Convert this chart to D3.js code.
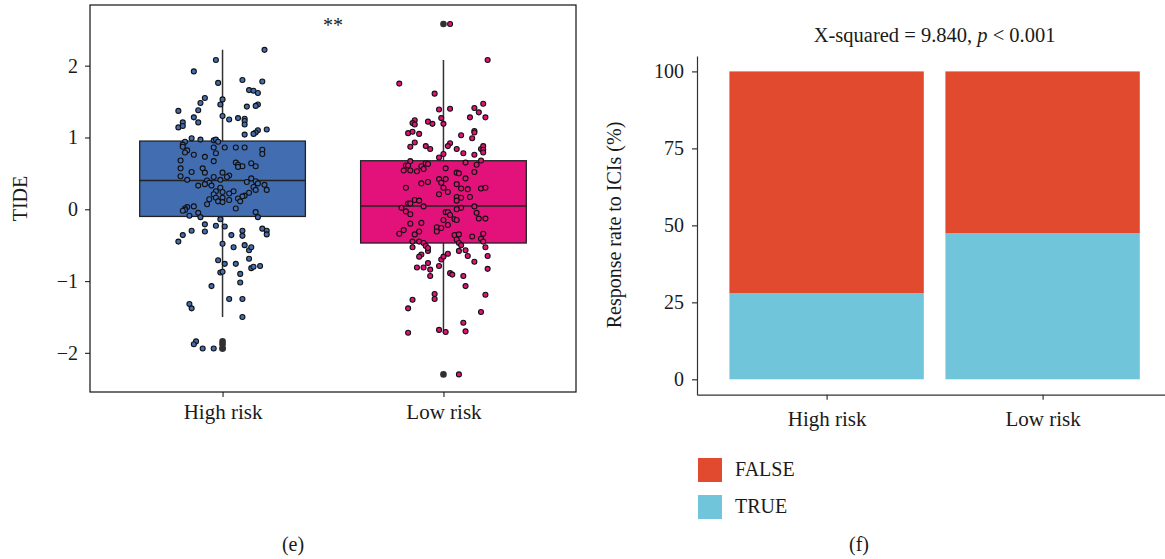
<!DOCTYPE html>
<html>
<head>
<meta charset="utf-8">
<script src="https://cdn.jsdelivr.net/npm/d3@7"></script>
<style>
body { margin: 0; background: #fff; }
text { font-family: "Liberation Serif", "DejaVu Serif", serif; fill: #1a1a1a; }
</style>
</head>
<body>
<svg id="fig"></svg>
<script>
var width = 1165;
var height = 559;
var serif = '"Liberation Serif", "DejaVu Serif", serif';

var groups = ["High risk", "Low risk"];
var groupColors = ["#426db1", "#e3127b"];
var tideTicks = [-2, -1, 0, 1, 2];

// box stats: lower whisker, q1, median, q3, upper whisker
var highBox = [-1.50, -0.10, 0.40, 0.95, 2.22];
var lowBox = [-1.72, -0.47, 0.046, 0.676, 2.08];

// TIDE values and their jitter (in category units)
var highTide = [
  2.22, 2.08, 1.92, 1.76, 1.80, 1.78, 1.66, 1.65, 1.62, 1.55,
  1.48, 1.53, 1.46, 1.46, 1.44, 1.43, 1.37, 1.38, 1.28, 1.30,
  1.25, 1.27, 1.26, 1.23, 1.21, 1.21, 1.14, 1.16, 1.18, 1.11,
  1.10, 1.07, 1.05, 1.04, 0.99, 0.97, 0.96, 0.97, 0.94, 0.94,
  0.90, 0.87, 0.82, 0.79, 0.76, 0.86, 0.86, 0.86, 0.86, 0.78,
  0.83, 0.77, 0.73, 0.68, 0.67, 0.65, 0.62, 0.60, 0.59, 0.64,
  0.60, 0.57, 0.57, 0.51, 0.52, 0.51, 0.46, 0.47, 0.45, 0.45,
  0.41, 0.41, 0.40, 0.37, 0.38, 0.43, 0.39, 0.36, 0.33, 0.35,
  0.33, 0.30, 0.34, 0.31, 0.27, 0.27, 0.25, 0.24, 0.25, 0.22,
  0.21, 0.23, 0.19, 0.18, 0.16, 0.14, 0.16, 0.15, 0.11, 0.13,
  0.11, 0.10, 0.07, 0.01, 0.04, 0.03, 0.01, -0.01, -0.02, -0.04,
  -0.09, -0.05, -0.11, -0.11, -0.14, -0.21, -0.23, -0.24, -0.27, -0.30,
  -0.35, -0.30, -0.37, -0.36, -0.31, -0.30, -0.36, -0.45, -0.48, -0.50,
  -0.53, -0.57, -0.53, -0.71, -0.76, -0.76, -0.69, -0.79, -0.82, -0.80,
  -0.88, -0.87, -0.90, -1.02, -1.07, -1.25, -1.25, -1.32, -1.38, -1.50,
  -1.84, -1.88, -1.94, -1.94
];
var highJitter = [
  0.19, -0.03, -0.13, -0.02, 0.09, 0.18, 0.12, 0.14, 0.16, -0.08,
  -0.10, 0.00, -0.01, 0.16, 0.15, 0.11, -0.20, -0.11, -0.13, 0.00,
  0.03, 0.07, 0.10, 0.10, -0.11, -0.18, -0.20, -0.18, 0.10, 0.20,
  0.16, 0.15, 0.14, 0.10, -0.14, -0.10, -0.04, -0.03, -0.02, -0.17,
  -0.18, -0.18, -0.16, -0.17, -0.13, -0.04, 0.01, 0.06, 0.10, -0.03,
  0.18, 0.18, -0.08, -0.19, -0.04, 0.06, 0.07, 0.09, 0.07, 0.13,
  0.15, -0.19, -0.09, -0.08, -0.14, 0.00, -0.19, 0.03, 0.02, -0.04,
  -0.01, -0.16, -0.07, -0.06, 0.11, 0.13, 0.15, 0.16, -0.11, -0.08,
  -0.05, -0.01, 0.19, 0.14, 0.15, 0.20, -0.03, 0.00, 0.05, 0.03,
  -0.04, 0.12, 0.10, 0.09, -0.03, -0.06, 0.00, 0.07, 0.08, 0.03,
  -0.02, 0.00, -0.07, 0.06, -0.13, -0.16, -0.17, -0.17, -0.18, 0.15,
  -0.15, -0.11, -0.10, 0.16, -0.01, -0.08, -0.03, 0.01, 0.18, 0.20,
  0.20, 0.09, 0.09, 0.04, -0.08, -0.14, -0.18, -0.20, 0.00, 0.10,
  0.05, 0.12, 0.13, -0.02, 0.01, 0.06, 0.12, 0.17, 0.13, 0.14,
  -0.01, 0.00, 0.08, 0.08, -0.05, 0.03, 0.09, -0.15, -0.14, 0.09,
  -0.12, -0.13, -0.09, -0.04
];
var lowTide = [
  2.58, 2.08, 1.75, 1.61, 1.39, 1.40, 1.41, 1.47, 1.35, 1.28,
  1.28, 1.27, 1.19, 1.24, 1.20, 1.18, 1.22, 1.19, 1.06, 1.08,
  1.05, 1.03, 1.09, 1.07, 0.99, 0.93, 0.87, 0.88, 0.84, 0.92,
  0.88, 0.84, 0.78, 0.76, 0.84, 0.88, 0.83, 0.79, 0.77, 0.72,
  0.68, 0.67, 0.61, 0.61, 0.54, 0.54, 0.53, 0.60, 0.56, 0.64,
  0.63, 0.57, 0.65, 0.62, 0.52, 0.51, 0.50, 0.43, 0.42, 0.37,
  0.42, 0.36, 0.38, 0.30, 0.30, 0.35, 0.29, 0.28, 0.29, 0.30,
  0.21, 0.24, 0.17, 0.16, 0.17, 0.12, 0.13, 0.12, 0.08, 0.08,
  0.04, 0.02, 0.04, 0.02, 0.00, -0.04, -0.04, -0.03, -0.07, -0.05,
  -0.08, -0.14, -0.15, -0.13, -0.13, -0.19, -0.20, -0.15, -0.25, -0.26,
  -0.22, -0.34, -0.29, -0.35, -0.31, -0.31, -0.36, -0.35, -0.42, -0.47,
  -0.50, -0.38, -0.41, -0.34, -0.45, -0.45, -0.53, -0.45, -0.47, -0.51,
  -0.58, -0.54, -0.63, -0.66, -0.81, -0.81, -0.75, -0.84, -0.93, -0.79,
  -0.70, -0.66, -0.62, -0.58, -0.57, -0.65, -0.73, -0.53, -0.65, -0.83,
  -0.89, -0.91, -0.93, -1.07, -1.19, -1.18, -1.25, -1.26, -1.38, -1.43,
  -1.58, -1.70, -1.68, -1.71, -1.72, -2.30
];
var lowJitter = [
  0.03, 0.20, -0.20, -0.04, -0.02, 0.03, 0.14, 0.18, 0.16, 0.12,
  0.19, -0.01, 0.00, -0.13, -0.14, -0.13, -0.07, -0.05, -0.16, -0.14,
  -0.11, 0.08, 0.14, 0.14, 0.13, -0.13, -0.15, -0.08, -0.06, 0.03,
  0.02, 0.06, 0.09, 0.14, 0.17, 0.18, 0.18, 0.18, 0.00, -0.02,
  0.17, -0.15, -0.17, -0.16, -0.18, -0.15, -0.12, -0.10, -0.09, -0.08,
  -0.07, 0.01, 0.10, 0.15, 0.14, 0.06, 0.07, 0.10, -0.02, -0.01,
  0.01, -0.10, -0.07, -0.17, 0.00, 0.06, 0.08, 0.11, 0.17, 0.19,
  -0.02, 0.02, 0.06, 0.08, 0.12, 0.06, -0.13, -0.11, -0.16, -0.15,
  -0.09, -0.19, 0.14, 0.08, 0.06, 0.01, 0.02, -0.17, -0.15, 0.15,
  0.03, 0.05, 0.06, 0.16, 0.19, -0.10, -0.15, 0.00, -0.03, -0.01,
  0.02, -0.20, -0.18, -0.13, -0.11, -0.03, 0.05, 0.07, 0.06, 0.07,
  0.08, 0.13, 0.17, 0.18, 0.18, -0.14, -0.14, -0.11, -0.09, -0.08,
  -0.07, -0.07, -0.10, -0.11, -0.12, -0.09, -0.07, -0.06, -0.06, -0.02,
  -0.01, 0.00, 0.02, 0.07, 0.10, 0.11, 0.14, 0.19, 0.20, 0.20,
  0.03, 0.04, 0.09, 0.10, 0.19, -0.04, -0.04, -0.14, -0.16, 0.17,
  0.09, 0.10, -0.02, 0.01, -0.16, 0.07
];

// response to ICIs (%)
var truePct = [28.0, 47.5];
var falsePct = [72.0, 52.5];
var pctTicks = [0, 25, 50, 75, 100];
var responseKeys = ["FALSE", "TRUE"];
var responseColors = ["#e24a2f", "#71c5da"];

var svg = d3.select("#fig")
  .attr("width", width)
  .attr("height", height);

function styleAxis(g, size) {
  g.attr("font-family", null).attr("font-size", null);
  g.selectAll("line, path").attr("stroke", "#333").style("stroke-width", 1.2);
  g.selectAll("text")
    .style("font-family", serif)
    .style("font-size", size + "px")
    .attr("fill", "#1a1a1a");
}

// ---------- (e) boxplot ----------
var x1 = d3.scalePoint().domain(groups).range([90, 576]).padding(0.6);
var y1 = d3.scaleLinear().domain([-2.545, 2.845]).range([392, 5]);
var step1 = x1.step();

var left = svg.append("g");

left.append("g")
  .attr("transform", "translate(90,0)")
  .call(d3.axisLeft(y1).tickValues(tideTicks).tickFormat(d3.format("d")).tickSize(5).tickPadding(7))
  .call(function (g) { g.select(".domain").remove(); styleAxis(g, 20); });

left.append("g")
  .attr("transform", "translate(0,392)")
  .call(d3.axisBottom(x1).tickSize(5))
  .call(function (g) {
    g.select(".domain").remove();
    styleAxis(g, 21);
    g.selectAll("text").attr("dy", null).attr("y", 27);
  });

var boxes = groups.map(function (g, i) {
  var s = i == 0 ? highBox : lowBox;
  var vals = i == 0 ? highTide : lowTide;
  var jit = i == 0 ? highJitter : lowJitter;
  var iqr = s[3] - s[1];
  return {
    name: g, color: groupColors[i], stats: s,
    points: vals.map(function (v, k) { return { v: v, j: jit[k] }; }),
    outliers: vals.filter(function (v) { return v < s[1] - 1.5 * iqr || v > s[3] + 1.5 * iqr; })
  };
});

var bx = left.selectAll("g.box")
  .data(boxes)
  .enter()
  .append("g")
  .attr("class", "box");

bx.append("line")
  .attr("x1", function (d) { return x1(d.name); })
  .attr("x2", function (d) { return x1(d.name); })
  .attr("y1", function (d) { return y1(d.stats[0]); })
  .attr("y2", function (d) { return y1(d.stats[4]); })
  .style("stroke", "#333").style("stroke-width", 1.5);

bx.append("rect")
  .attr("x", function (d) { return x1(d.name) - step1 * 0.375; })
  .attr("width", step1 * 0.75)
  .attr("y", function (d) { return y1(d.stats[3]); })
  .attr("height", function (d) { return y1(d.stats[1]) - y1(d.stats[3]); })
  .style("fill", function (d) { return d.color; })
  .style("stroke", "#222").style("stroke-width", 1.3);

bx.append("line")
  .attr("x1", function (d) { return x1(d.name) - step1 * 0.375; })
  .attr("x2", function (d) { return x1(d.name) + step1 * 0.375; })
  .attr("y1", function (d) { return y1(d.stats[2]); })
  .attr("y2", function (d) { return y1(d.stats[2]); })
  .style("stroke", "#222").style("stroke-width", 1.6);

bx.selectAll("circle.out")
  .data(function (d) { return d.outliers.map(function (v) { return { g: d.name, v: v }; }); })
  .enter()
  .append("circle")
  .attr("class", "out")
  .attr("r", 3.3)
  .attr("cx", function (d) { return x1(d.g); })
  .attr("cy", function (d) { return y1(d.v); })
  .style("fill", "#303030");

bx.selectAll("circle.pt")
  .data(function (d) { return d.points.map(function (p) { return { g: d.name, c: d.color, v: p.v, j: p.j }; }); })
  .enter()
  .append("circle")
  .attr("class", "pt")
  .attr("r", 2.5)
  .attr("cx", function (d) { return x1(d.g) + d.j * step1; })
  .attr("cy", function (d) { return y1(d.v); })
  .style("fill", function (d) { return d.c; })
  .style("stroke", "#111").style("stroke-width", 1.1);

left.append("rect")
  .attr("x", 90).attr("y", 5)
  .attr("width", 486).attr("height", 387)
  .style("fill", "none").style("stroke", "#111").style("stroke-width", 1.2);

left.append("text")
  .attr("x", (x1(groups[0]) + x1(groups[1])) / 2)
  .attr("y", 32)
  .attr("text-anchor", "middle")
  .style("font-size", "20px")
  .attr("fill", "#555")
  .text("**");

left.append("text")
  .attr("transform", "translate(27,198.5) rotate(-90)")
  .attr("text-anchor", "middle")
  .style("font-size", "20px")
  .text("TIDE");

left.append("text")
  .attr("x", 293).attr("y", 551)
  .attr("text-anchor", "middle")
  .style("font-size", "20px")
  .text("(e)");

// ---------- (f) stacked bars ----------
var x2 = d3.scalePoint().domain(groups).range([697, 1172.2]).padding(0.6);
var y2 = d3.scaleLinear().domain([-5, 105]).range([394.7, 56]);
var step2 = x2.step();

var rows = groups.map(function (g, i) {
  return { group: g, "TRUE": truePct[i], "FALSE": falsePct[i] };
});
var stacked = d3.stack().keys(["TRUE", "FALSE"])(rows);
var fillOf = d3.scaleOrdinal().domain(responseKeys).range(responseColors);

var right = svg.append("g");

right.selectAll("g.layer")
  .data(stacked)
  .enter()
  .append("g")
  .attr("class", "layer")
  .style("fill", function (d) { return fillOf(d.key); })
  .selectAll("rect")
  .data(function (d) { return d; })
  .enter()
  .append("rect")
  .attr("x", function (d) { return x2(d.data.group) - step2 * 0.45; })
  .attr("width", step2 * 0.9)
  .attr("y", function (d) { return y2(d[1]); })
  .attr("height", function (d) { return y2(d[0]) - y2(d[1]); });

right.append("g")
  .attr("transform", "translate(697,0)")
  .call(d3.axisLeft(y2).tickValues(pctTicks).tickSize(5).tickSizeOuter(0).tickPadding(8))
  .call(function (g) { styleAxis(g, 20); });

right.append("g")
  .attr("transform", "translate(0,394.7)")
  .call(d3.axisBottom(x2).tickSize(5).tickSizeOuter(0))
  .call(function (g) {
    styleAxis(g, 21);
    g.selectAll("text").attr("dy", null).attr("y", 31);
  });

var title = right.append("text")
  .attr("x", (697 + 1172.2) / 2)
  .attr("y", 42)
  .attr("text-anchor", "middle")
  .style("font-size", "20.5px");
title.append("tspan").text("X-squared = 9.840, ");
title.append("tspan").style("font-style", "italic").text("p");
title.append("tspan").text(" < 0.001");

right.append("text")
  .attr("transform", "translate(621,225) rotate(-90)")
  .attr("text-anchor", "middle")
  .style("font-size", "20px")
  .text("Response rate to ICIs (%)");

var legend = right.selectAll("g.leg")
  .data(responseKeys)
  .enter()
  .append("g")
  .attr("class", "leg")
  .attr("transform", function (d, i) { return "translate(698," + (458 + i * 37) + ")"; });

legend.append("rect")
  .attr("width", 24).attr("height", 24)
  .style("fill", function (d) { return fillOf(d); });

legend.append("text")
  .attr("x", 37).attr("y", 18)
  .style("font-size", "20px")
  .text(function (d) { return d; });

right.append("text")
  .attr("x", 859).attr("y", 551)
  .attr("text-anchor", "middle")
  .style("font-size", "20px")
  .text("(f)");
</script>
</body>
</html>
